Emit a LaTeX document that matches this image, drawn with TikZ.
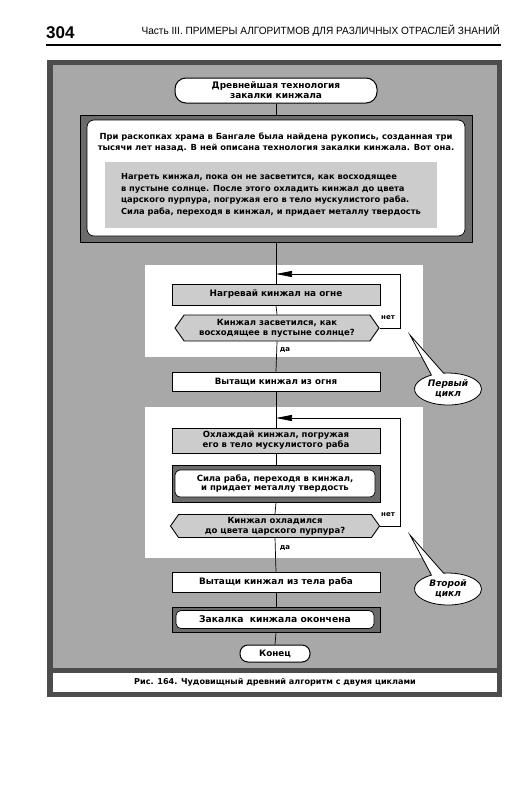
\documentclass[tikz,border=0pt]{standalone}
\usepackage{fontspec}
\setmainfont{DejaVu Sans}
\newfontfamily\narrowfont[FakeStretch=0.96]{Liberation Sans}
\newfontfamily\libfont{Liberation Sans}
\usetikzlibrary{shapes.symbols,shapes.callouts,arrows.meta}
\definecolor{bggray}{gray}{0.66}
\definecolor{boxgray}{gray}{0.80}
\definecolor{framegray}{gray}{0.42}
\definecolor{darkframe}{gray}{0.30}
\tikzset{
  flow/.style={draw=black, line width=0.7pt},
  loopflow/.style={flow, -{Triangle[length=16pt,width=6pt]}},
  txt/.style={font=\fontsize{8.5}{9.8}\selectfont\bfseries, align=center},
  procbox/.style={txt, draw, line width=0.9pt, minimum width=208pt, minimum height=20pt, inner sep=1pt},
  graybox/.style={procbox, fill=boxgray},
  whitebox/.style={procbox, fill=white},
  framebox/.style={draw, line width=0.8pt, fill=framegray, inner sep=0pt},
  innerbox/.style={txt, draw, line width=0.7pt, fill=white, rounded corners=5pt, inner sep=1pt},
  decision/.style={txt, signal, signal to=west and east, signal pointer angle=110, draw, line width=0.9pt, fill=boxgray, inner sep=1pt},
  terminal/.style={txt, draw, line width=1pt, fill=white, inner sep=1pt},
  bubble/.style={ellipse callout, draw, line width=0.8pt, fill=white, callout pointer arc=22, inner sep=0pt, font=\fontsize{9}{10}\selectfont\bfseries\itshape, align=center},
  lbl/.style={font=\fontsize{7}{9}\selectfont\bfseries, inner sep=1pt}
}
\begin{document}
\begin{tikzpicture}[x=1pt,y=-1pt]
\useasboundingbox (0,0) rectangle (532,800);
\fill[white] (0,0) rectangle (532,800);
% header
\node[anchor=west, font=\fontsize{17}{17}\selectfont\libfont\bfseries, inner sep=0pt] (pagenum) at (46,33) {304};
\node[anchor=east, font=\fontsize{10.5}{11}\selectfont\narrowfont, inner sep=0pt] (runhead) at (500,31) {Часть III. ПРИМЕРЫ АЛГОРИТМОВ ДЛЯ РАЗЛИЧНЫХ ОТРАСЛЕЙ ЗНАНИЙ};
\draw[line width=2.5pt] (46,45) -- (501,45);
% outer frame
\fill[darkframe] (47,60) rectangle (502,697);
\fill[bggray] (53,65) rectangle (497,668);
\fill[white] (53,673) rectangle (497,692);
\node[font=\fontsize{8.1}{10}\selectfont\bfseries, inner sep=0pt] (caption) at (275,682) {Рис. 164. Чудовищный древний алгоритм с двумя циклами};
% white loop regions
\fill[white] (145,265) rectangle (423,357);
\fill[white] (145,407) rectangle (423,558);
% start terminal
\node[terminal, font=\fontsize{9}{9.8}\selectfont\bfseries, rounded corners=11pt, minimum width=202pt, minimum height=25pt] (start) at (276,90.5) {Древнейшая технология\\закалки кинжала};
% intro box
\node[framebox, minimum width=392pt, minimum height=127pt] (introframe) at (276,178.5) {};
\node[draw, line width=0.7pt, fill=white, rounded corners=7pt, minimum width=378pt, minimum height=116pt] (introinner) at (276,178) {};
\node[font=\fontsize{8.4}{11}\selectfont\bfseries, align=center, inner sep=0pt] (introtext) at (276,142) {При раскопках храма в Бангале была найдена рукопись, созданная три\\тысячи лет назад. В ней описана технология закалки кинжала. Вот она.};
\node[fill=boxgray, minimum width=332pt, minimum height=66pt, font=\fontsize{8.3}{11.5}\selectfont\bfseries, align=left, inner sep=0pt] (recipe) at (271,195) {Нагреть кинжал, пока он не засветится, как восходящее\\в пустыне солнце. После этого охладить кинжал до цвета\\царского пурпура, погружая его в тело мускулистого раба.\\Сила раба, переходя в кинжал, и придает металлу твердость};
% first loop
\coordinate (join1) at (276,274);
\node[graybox, font=\fontsize{8.9}{10}\selectfont\bfseries, minimum height=21pt] (heat) at (276,294.5) {Нагревай кинжал на огне};
\node[decision, minimum width=204pt, minimum height=26pt] (glow) at (277,328) {Кинжал засветился, как\\восходящее в пустыне солнце?};
\node[lbl] (no1) at (388,318) {нет};
\node[lbl] (yes1) at (285,350) {да};
\node[whitebox, font=\fontsize{8.7}{10}\selectfont\bfseries, minimum height=19pt] (pull1) at (276,381.5) {Вытащи кинжал из огня};
% second loop
\coordinate (join2) at (276,418);
\node[graybox, minimum height=25pt] (cool) at (276,440.5) {Охлаждай кинжал, погружая\\его в тело мускулистого раба};
\node[framebox, minimum width=208pt, minimum height=37pt] (forceframe) at (276,483.5) {};
\node[innerbox, minimum width=200pt, minimum height=27pt] (force) at (275,483.5) {Сила раба, переходя в кинжал,\\и придает металлу твердость};
\node[decision, minimum width=209pt, minimum height=23pt] (cooled) at (275,526) {Кинжал охладился\\до цвета царского пурпура?};
\node[lbl] (no2) at (388,515) {нет};
\node[lbl] (yes2) at (285,548) {да};
\node[whitebox, font=\fontsize{8.9}{10}\selectfont\bfseries, minimum height=20pt] (pull2) at (276,582) {Вытащи кинжал из тела раба};
\node[framebox, minimum width=208pt, minimum height=25pt] (doneframe) at (276,619.5) {};
\node[innerbox, font=\fontsize{9.2}{10}\selectfont\bfseries, minimum width=198pt, minimum height=18pt] (done) at (275,619.5) {Закалка\ \ кинжала окончена};
\node[terminal, font=\fontsize{8.8}{10}\selectfont\bfseries, rounded corners=8pt, minimum width=70pt, minimum height=17pt] (finish) at (275,653.5) {Конец};
% callouts
\node[bubble, minimum width=67pt, minimum height=32pt, callout absolute pointer={(410,335)}] (cycle1) at (448,389) {Первый\\цикл};
\node[bubble, minimum width=67pt, minimum height=32pt, callout absolute pointer={(410,535)}] (cycle2) at (448,589) {Второй\\цикл};
% connectors
\draw[flow] (start.south) -- (introframe.north);
\draw[flow] (introframe.south) -- (heat.north);
\draw[flow] (heat.south) -- (glow.north);
\draw[flow] (glow.south) -- (pull1.north);
\draw[loopflow] (glow.east) -- (400,328) |- (join1);
\draw[flow] (pull1.south) -- (cool.north);
\draw[flow] (cool.south) -- (forceframe.north);
\draw[flow] (forceframe.south) -- (cooled.north);
\draw[loopflow] (cooled.east) -- (400,526) |- (join2);
\draw[flow] (cooled.south) -- (pull2.north);
\draw[flow] (pull2.south) -- (doneframe.north);
\draw[flow] (doneframe.south) -- (finish.north);
\end{tikzpicture}
\end{document}
